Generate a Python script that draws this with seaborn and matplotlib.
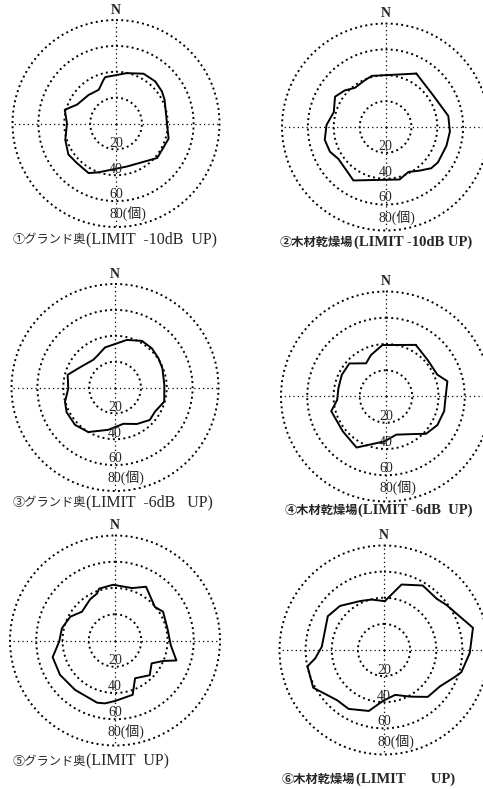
"""
Polar plots of detection counts by direction (six sites / limits).
"""
import numpy as np
import matplotlib
matplotlib.use("Agg")
import matplotlib.pyplot as plt
import matplotlib.transforms as mtransforms
import seaborn as sns
import pandas as pd

sns.set_style("white")
plt.rcParams['font.family'] = ['Liberation Serif', 'Noto Sans CJK JP']

cap_jp = ["①グランド奥", "②木材乾燥場", "③グランド奥",
          "④木材乾燥場", "⑤グランド奥", "⑥木材乾燥場"]
cap_en = ["(LIMIT  -10dB  UP)", "(LIMIT -10dB UP)", "(LIMIT  -6dB   UP)",
          "(LIMIT -6dB  UP)", "(LIMIT  UP)", "(LIMIT       UP)"]
ring_values = [20, 40, 60, 80]
ring_labels = ["20", "40", "60", "80(個)"]

# direction (deg, clockwise from N) and count
dir_1 = [12, 29, 43, 55, 64, 90, 106, 120, 130, 166, 200, 209, 225, 237,
         252, 270, 285, 296, 316, 333, 344, 347]
cnt_1 = [39.8, 44.0, 44.5, 43.3, 41.8, 39.4, 42.3, 41.0, 41.5, 34.3, 40.2,
         43.8, 43.0, 43.9, 41.2, 37.9, 41.0, 33.4, 30.6, 29.3, 35.1, 36.8]

dir_2 = [30, 56, 80, 94, 107, 124, 132, 142, 153, 165, 211, 222, 236, 246,
         258, 272, 286, 301, 312, 322, 336, 345]
cnt_2 = [47.7, 44.2, 49.3, 49.9, 49.3, 48.9, 47.6, 42.8, 39.0, 42.0, 48.2,
         45.1, 44.0, 47.0, 48.0, 45.6, 41.6, 45.5, 42.3, 38.4, 39.5, 40.9]

dir_3 = [14, 30, 43, 56, 68, 87, 106, 121, 133, 149, 167, 189, 211, 227,
         243, 254, 269, 285, 300, 322, 333, 346]
cnt_3 = [37.9, 41.6, 41.6, 40.5, 39.5, 38.2, 39.6, 36.1, 36.8, 32.9, 28.8,
         33.1, 40.2, 42.3, 42.0, 40.2, 36.1, 37.9, 31.2, 27.2, 28.4, 31.9]

dir_4 = [30, 49, 67, 76, 95, 104, 119, 133, 143, 165, 182, 210, 231, 255,
         266, 280, 296, 312, 329, 340, 356]
cnt_4 = [45.4, 42.2, 42.5, 48.2, 45.2, 45.7, 44.8, 41.7, 35.8, 30.1, 34.2,
         44.9, 42.3, 43.2, 37.3, 36.8, 37.5, 37.6, 29.5, 33.6, 39.3]

dir_5 = [18, 30, 50, 59, 77, 95, 108, 113, 122, 135, 152, 162, 180, 189,
         196, 219, 238, 255, 269, 283, 298, 311, 329, 339, 343, 358]
cnt_5 = [42.0, 47.3, 39.7, 42.7, 41.0, 42.7, 49.2, 39.9, 32.9, 37.4, 32.6,
         43.5, 46.1, 48.5, 49.3, 48.4, 49.4, 49.2, 42.5, 41.5, 38.6, 33.4,
         36.7, 38.3, 41.3, 42.5]

dir_6 = [1, 15, 31, 46, 54, 76, 92, 106, 111, 123, 137, 151, 166, 181, 194,
         211, 223, 242, 258, 263, 273, 301, 315, 334, 346]
cnt_6 = [37.4, 51.9, 57.6, 56.3, 58.9, 70.2, 65.7, 61.6, 57.9, 51.1, 49.1,
         40.8, 35.4, 38.9, 48.1, 52.6, 52.6, 61.4, 59.9, 53.1, 47.7, 50.2,
         47.7, 41.7, 39.8]

dirs = [dir_1, dir_2, dir_3, dir_4, dir_5, dir_6]
cnts = [cnt_1, cnt_2, cnt_3, cnt_4, cnt_5, cnt_6]

W, H = 483., 789.
fig = plt.figure(figsize=(W / 100, H / 100), dpi=100)

# panel centres / radius of the 80 ring in pixels
centers = [(116, 123.5), (385.5, 127), (115, 387.5),
           (386, 396.5), (115, 640.5), (384, 650)]
radii = [103.5, 103.5, 103.5, 105, 105, 104.5]
cap_pos = [(13, 243), (280, 246), (13, 506), (285, 514), (13, 765), (282, 783)]
label_r = [18, 38, 57.5, 73]

for i in range(6):
    cx, cy = centers[i]
    R = radii[i]
    ax = fig.add_axes([(cx - R) / W, (H - cy - R) / H, 2 * R / W, 2 * R / H],
                      projection='polar')
    ax.set_theta_zero_location('N')
    ax.set_theta_direction(-1)

    df = pd.DataFrame({'theta': np.deg2rad(dirs[i] + [dirs[i][0]]),
                       'count': cnts[i] + [cnts[i][0]]})
    sns.lineplot(data=df, x='theta', y='count', sort=False, estimator=None,
                 color='k', lw=1.4, ax=ax, zorder=3)
    ax.set_xlabel('')
    ax.set_ylabel('')

    ax.set_ylim(0, 80)
    ax.set_rgrids(ring_values, labels=[])
    ax.set_thetagrids([0, 90, 180, 270], labels=[])
    ax.grid(axis='y', color='k', linestyle=(0, (1, 1.7)), linewidth=1.4)
    ax.grid(axis='x', color='k', linestyle=(0, (1, 2.5)), linewidth=0.9)
    for gl in ax.yaxis.get_gridlines():
        gl.set_clip_on(False)
    ax.spines['polar'].set_visible(False)
    ax.patch.set_alpha(0)

    ax.text(0, 85, 'N', ha='center', va='baseline', fontsize=10,
            fontweight='bold')
    for lab, r in zip(ring_labels[:3], label_r[:3]):
        ax.text(np.pi, r, lab, ha='center', va='baseline', fontsize=10)
    trans = mtransforms.offset_copy(ax.transData, fig=fig, x=-7, y=0,
                                    units='dots')
    ax.text(np.pi, label_r[3], ring_labels[3], ha='left', va='baseline',
            fontsize=10, transform=trans)

    x, y = cap_pos[i]
    bold = i % 2 == 1
    t1 = fig.text(x / W, 1 - y / H, cap_jp[i], ha='left', va='baseline',
                  fontsize=8.8, fontweight='bold' if bold else 'normal')
    ax.annotate(cap_en[i], xy=(1, 1 - y / H), xycoords=(t1, fig.transFigure),
                ha='left', va='baseline', fontsize=10.5 if bold else 11.5,
                fontweight='bold' if bold else 'normal')

fig.savefig('out.png', dpi=100)
